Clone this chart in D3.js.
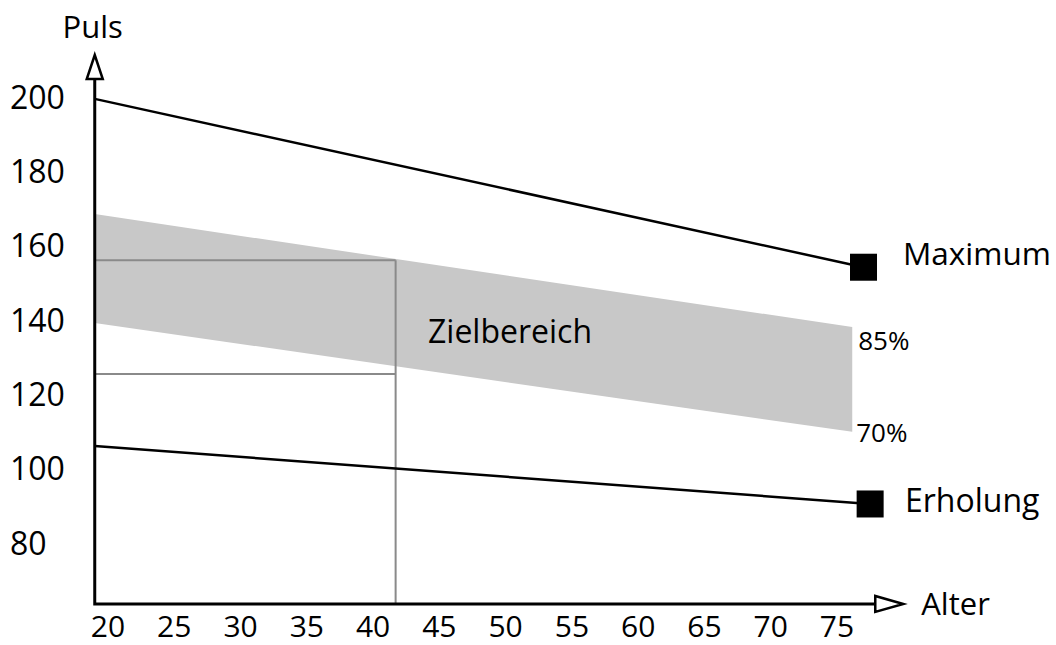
<!DOCTYPE html>
<html><head><meta charset="utf-8">
<script src="https://cdn.jsdelivr.net/npm/d3@7"></script>
<style>
html,body{margin:0;padding:0;background:#fff;}
svg{display:block;}
text{font-family:"Open Sans",sans-serif;fill:#000;}
</style></head>
<body>
<svg id="chart" width="1056" height="645"></svg>
<script>
// ---- data ----
const xTicks = [20, 25, 30, 35, 40, 45, 50, 55, 60, 65, 70, 75];
const yTicks = [80, 100, 120, 140, 160, 180, 200];
const maxAges = [19, 77];
const maxValues = [199.5, 154.2];
const recAges = [19, 77.5];
const recValues = [106.1, 90.5];
const bandAges = [19, 76.15];
const band85 = [168.5, 138.1];
const band70 = [139.2, 109.9];
const exampleAge = 41.7;
const example85 = 156.1;
const example70 = 125.5;
const axisOrigin = [19, 63.6];
const axisEnd = [80, 211.3];
const labels = { y: "Puls", x: "Alter", zone: "Zielbereich", hi: "85%", lo: "70%", max: "Maximum", rec: "Erholung" };

const svg = d3.select("#chart");
const x = d3.scaleLinear().domain([20, 75]).range([108, 837]);
const y = d3.scaleLinear().domain([80, 200]).range([543, 97]);

// band
const bandData = bandAges.map((a, i) => ({ a, hi: band85[i], lo: band70[i] }));
svg.append("path").datum(bandData)
  .attr("d", d3.area().x(d => x(d.a)).y0(d => y(d.lo)).y1(d => y(d.hi)))
  .attr("fill", "#c8c8c8");

// example guide lines (gray)
const gray = "#8a8a8a";
[example85, example70].forEach(v => {
  svg.append("line").attr("x1", x(axisOrigin[0])).attr("x2", x(exampleAge))
    .attr("y1", y(v)).attr("y2", y(v)).attr("stroke", gray).attr("stroke-width", 2);
});
svg.append("line").attr("x1", x(exampleAge)).attr("x2", x(exampleAge))
  .attr("y1", y(example85)).attr("y2", y(axisOrigin[1])).attr("stroke", gray).attr("stroke-width", 2);

// lines
const line = d3.line().x(d => x(d[0])).y(d => y(d[1]));
const series = [
  { ages: maxAges, vals: maxValues },
  { ages: recAges, vals: recValues }
];
series.forEach(s => {
  const pts = s.ages.map((a, i) => [a, s.vals[i]]);
  svg.append("path").datum(pts).attr("d", line)
    .attr("fill", "none").attr("stroke", "#000").attr("stroke-width", 2.5);
  const last = pts[pts.length - 1];
  svg.append("rect").attr("x", x(last[0]) - 13.5).attr("y", y(last[1]) - 13.5)
    .attr("width", 27).attr("height", 27).attr("fill", "#000");
});

// axes
const ox = x(axisOrigin[0]), oy = y(axisOrigin[1]);
const ex = x(axisEnd[0]), ey = y(axisEnd[1]);
svg.append("path")
  .attr("d", `M${ox},${ey + 24}L${ox},${oy}L${ex - 28},${oy}`)
  .attr("fill", "none").attr("stroke", "#000").attr("stroke-width", 3);
svg.append("path")
  .attr("d", `M${ox},${ey}L${ox + 8},${ey + 24}L${ox - 8},${ey + 24}Z`)
  .attr("fill", "#fff").attr("stroke", "#000").attr("stroke-width", 2.5).attr("stroke-linejoin", "miter");
svg.append("path")
  .attr("d", `M${ex},${oy}L${ex - 28},${oy - 8}L${ex - 28},${oy + 8}Z`)
  .attr("fill", "#fff").attr("stroke", "#000").attr("stroke-width", 2.5);

// tick labels
svg.selectAll(".yl").data(yTicks).enter().append("text")
  .attr("x", 10).attr("y", d => y(d) + 11.5)
  .attr("font-size", 32).text(d => d);
svg.selectAll(".xl").data(xTicks).enter().append("text")
  .attr("x", d => x(d)).attr("y", 637).attr("text-anchor", "middle")
  .attr("font-size", 30).text(d => d);

// titles and annotations
svg.append("text").attr("x", ox - 2).attr("y", 38).attr("text-anchor", "middle").attr("font-size", 31).text(labels.y);
svg.append("text").attr("x", ex + 18).attr("y", oy + 11).attr("font-size", 31).text(labels.x);
svg.append("text").attr("x", 428).attr("y", 343).attr("font-size", 32).text(labels.zone);
svg.append("text").attr("x", x(bandAges[1]) + 6).attr("y", 350).attr("font-size", 26).text(labels.hi);
svg.append("text").attr("x", x(bandAges[1]) + 4).attr("y", 442).attr("font-size", 26).text(labels.lo);
svg.append("text").attr("x", 903).attr("y", 265).attr("font-size", 31.5).text(labels.max);
svg.append("text").attr("x", 905).attr("y", 512).attr("font-size", 32).text(labels.rec);
</script>
</body></html>
